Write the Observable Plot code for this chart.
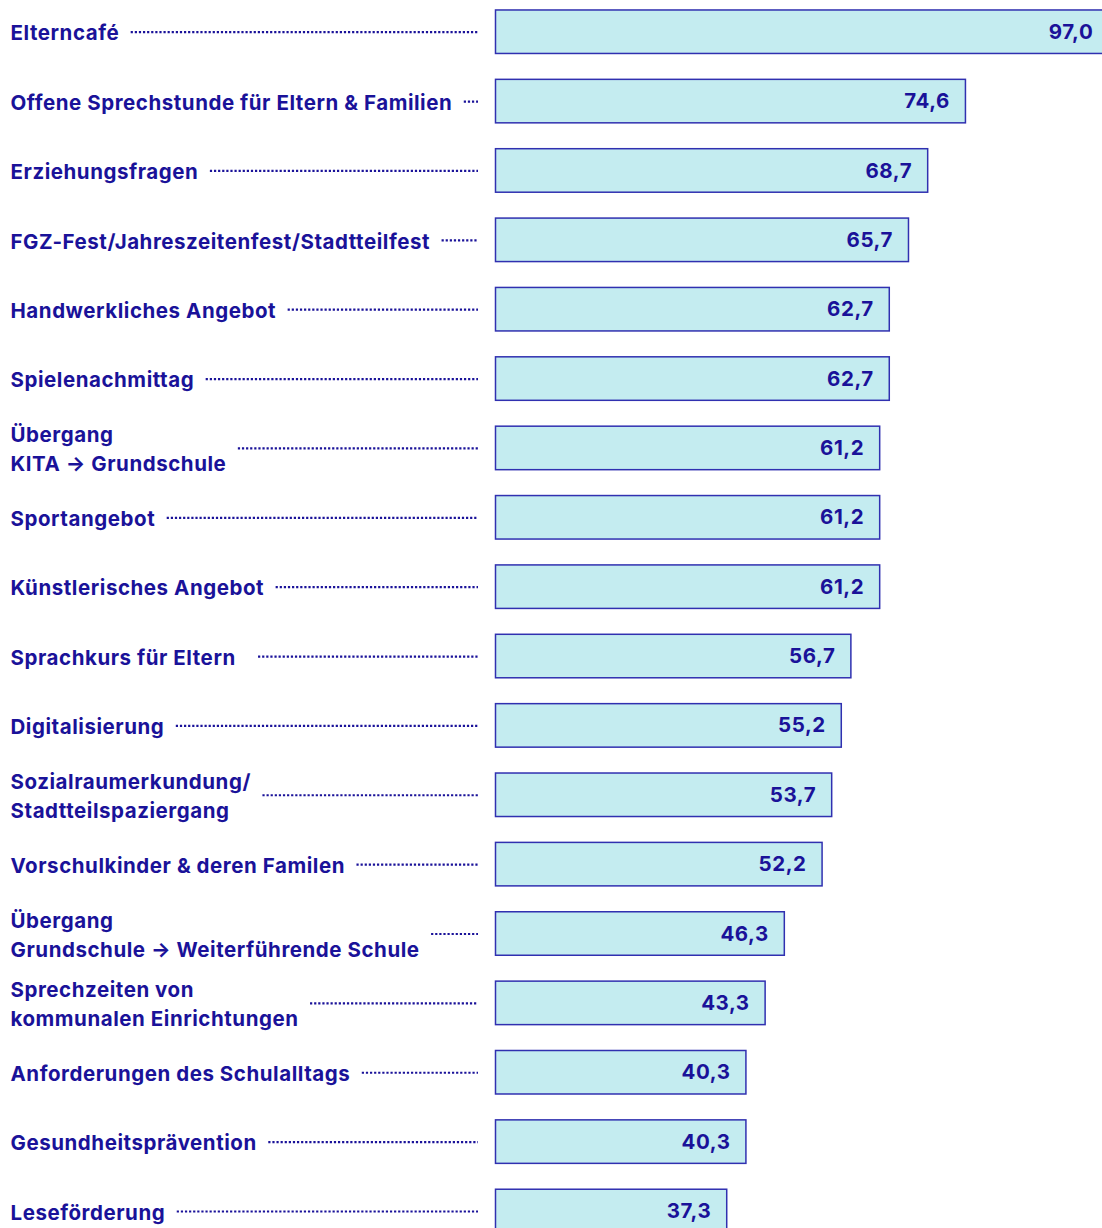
<!DOCTYPE html>
<html><head><meta charset="utf-8">
<script src="https://cdn.jsdelivr.net/npm/d3@7"></script>
<script src="https://cdn.jsdelivr.net/npm/@observablehq/plot@0.6"></script>
<style>html,body{margin:0;padding:0;overflow:hidden;background:#fff}</style>
</head><body><div id="chart"></div>
<script>
const categories = [
  "Elterncafé",
  "Offene Sprechstunde für Eltern & Familien",
  "Erziehungsfragen",
  "FGZ-Fest/Jahreszeitenfest/Stadtteilfest",
  "Handwerkliches Angebot",
  "Spielenachmittag",
  "Übergang\nKITA → Grundschule",
  "Sportangebot",
  "Künstlerisches Angebot",
  "Sprachkurs für Eltern  ",
  "Digitalisierung",
  "Sozialraumerkundung/\nStadtteilspaziergang",
  "Vorschulkinder & deren Familen",
  "Übergang\nGrundschule → Weiterführende Schule",
  "Sprechzeiten von\nkommunalen Einrichtungen",
  "Anforderungen des Schulalltags",
  "Gesundheitsprävention",
  "Leseförderung"
];
const values = [97.0, 74.6, 68.7, 65.7, 62.7, 62.7, 61.2, 61.2, 61.2, 56.7, 55.2, 53.7, 52.2, 46.3, 43.3, 40.3, 40.3, 37.3];

const data = categories.map((label, i) => ({label, value: values[i]}));

const INK = "#1a1299";
const FONT = "Inter";
const FS = 20.5;
const LS = 0.55;
const fmt = d3.formatLocale({decimal: ",", thousands: ".", grouping: [3], currency: ["", " €"]}).format(".1f");

const xDomain = [0, 100];
const xRange = [488, 1128];
const xs = Plot.scale({x: {domain: xDomain, range: xRange}});

const ctx = document.createElement("canvas").getContext("2d");
ctx.font = `700 ${FS}px ${FONT}`;
const textWidth = s => d3.max(s.split("\n"), l => ctx.measureText(l).width + LS * [...l].length);

const labelX = 10;
const leaderDx = -10;
const leaders = data.map(d => ({label: d.label, start: xs.invert(labelX + textWidth(d.label) + 12 - leaderDx)}));

const chart = Plot.plot({
  width: 1102,
  height: 1228,
  marginLeft: labelX,
  marginRight: 0,
  marginTop: 0,
  marginBottom: 0,
  style: {fontFamily: FONT, fontSize: FS + "px", background: "#fff", letterSpacing: LS + "px"},
  x: {domain: xDomain, range: xRange, axis: null},
  y: {type: "band", domain: categories, range: [-15.9, 1258.6], paddingInner: 0.373, paddingOuter: 0.373, align: 0.5, round: false, axis: null},
  marks: [
    Plot.ruleY(leaders, {y: "label", x1: "start", x2: 0, dx: leaderDx, stroke: INK, strokeWidth: 2.2, strokeDasharray: "2.2 1.9"}),
    Plot.barX(data, {x: "value", y: "label", insetLeft: 7.5, fill: "#c4ecf0", stroke: "#3030b0", strokeWidth: 1.5}),
    Plot.text(data, {y: "label", text: "label", frameAnchor: "left", textAnchor: "start", lineAnchor: "middle", lineHeight: 1.4, fontWeight: 700, fontSize: FS, fill: INK, dy: -1}),
    Plot.text(data, {x: "value", y: "label", text: d => fmt(d.value), textAnchor: "end", dx: -16, fontWeight: 700, fontSize: FS, fill: INK})
  ]
});
document.getElementById("chart").append(chart);
</script>
</body></html>
